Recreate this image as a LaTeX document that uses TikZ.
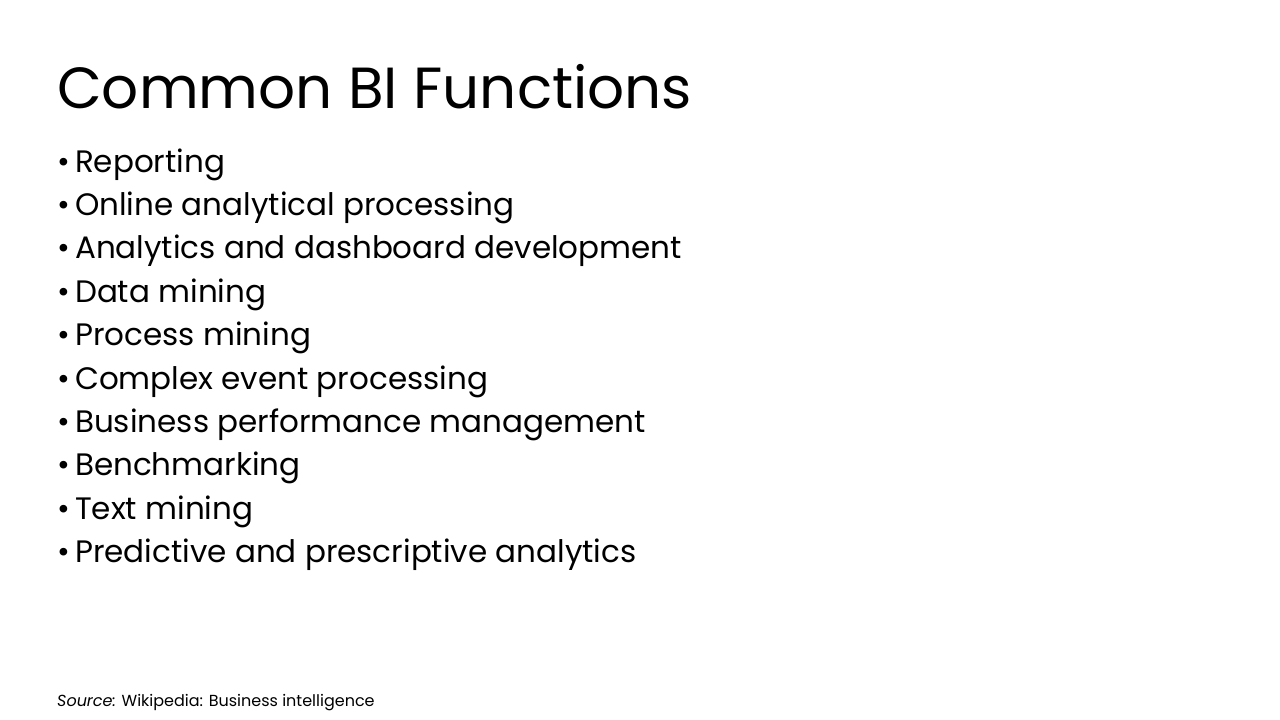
\documentclass[tikz,border=0pt]{standalone}
\usepackage{fontspec}
\setmainfont{Poppins}
\begin{document}
\begin{tikzpicture}[x=1pt,y=-1pt,
  item/.style={anchor=base west,inner sep=0pt,font=\fontsize{31}{31}\selectfont}]
\useasboundingbox[fill=white] (0,0) rectangle (1280,720);
\node[anchor=base west,inner sep=0pt,font=\fontsize{58}{58}\selectfont] (title) at (57,108) {Common BI Functions};
\foreach \t [count=\i] in {Reporting,Online analytical processing,Analytics and dashboard development,Data mining,Process mining,Complex event processing,Business performance management,Benchmarking,Text mining,Predictive and prescriptive analytics}
  \node[item] (b\i) at (57,{172+(\i-1)*43.4}) {•\,\t};
\node[anchor=base west,inner sep=0pt,font=\fontsize{16}{16}\selectfont] (src) at (57,706) {\textit{Source:} Wikipedia: Business intelligence};
\end{tikzpicture}
\end{document}
